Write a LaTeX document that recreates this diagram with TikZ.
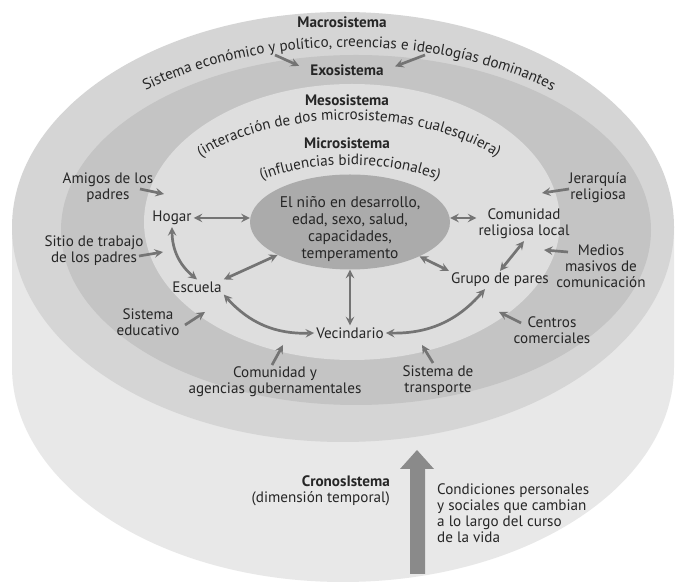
\documentclass[tikz,border=0pt]{standalone}
\usepackage{fontspec}
\setmainfont{PT Sans}
\usepackage{tikz}
\usetikzlibrary{shapes.geometric, arrows, decorations.text}
\definecolor{sidegray}{HTML}{E8E8E8}
\definecolor{macrogray}{HTML}{D5D5D5}
\definecolor{exogray}{HTML}{C4C4C4}
\definecolor{mesogray}{HTML}{DEDEDE}
\definecolor{ninogray}{HTML}{ABABAB}
\definecolor{arrowgray}{HTML}{747474}
\definecolor{cronogray}{HTML}{8A8A8A}
\definecolor{inkgray}{HTML}{262626}
\newcommand{\sistfont}{\fontsize{15.2}{16}\selectfont}
\tikzstyle{sist} = [align=center, font=\sistfont, text=inkgray, inner sep=2pt]
\tikzstyle{ringname} = [font=\sistfont\bfseries, text=inkgray, inner sep=2pt]
\tikzstyle{nino} = [ellipse, minimum width=200bp, minimum height=95bp, inner sep=0pt, fill=ninogray]
\tikzstyle{ninotext} = [align=center, font=\fontsize{15.5}{17}\selectfont, text=inkgray]
\tikzstyle{arrow} = [line width=2.7bp, draw=arrowgray, ->, >=stealth]
\tikzstyle{twoway} = [line width=2.7bp, draw=arrowgray, <->, >=stealth]

\begin{document}
\begin{tikzpicture}[x=1bp, y=1bp]
        \useasboundingbox (0,0) rectangle (681,588);
        \fill[white] (0,0) rectangle (681,588);

        % the disk and its rings
        \fill[sidegray] (12,361) -- (12,221) arc[start angle=180, end angle=360, x radius=331, y radius=215] -- (674,361) -- cycle;
        \fill[macrogray] (343,361) ellipse [x radius=331, y radius=215];
        \fill[exogray] (356,358) ellipse [x radius=295, y radius=175];
        \fill[mesogray] (352,366) ellipse [x radius=208, y radius=138];

        % ring names
        \node (macro) [ringname] at (342,566) {Macrosistema};
        \node (exo) [ringname] at (347,518) {Exosistema};
        \node (meso) [ringname] at (347,488) {Mesosistema};
        \node (micro) [ringname] at (347,445) {Microsistema};

        \path[decorate, decoration={text along path, text align=center,
            text={|\sistfont\color{inkgray}|Sistema económico y político, creencias e ideologías dominantes}}]
            (34,356) arc[start angle=180, end angle=0, x radius=315, y radius=185];
        \path[decorate, decoration={text along path, text align=center,
            text={|\sistfont\color{inkgray}|(interacción de dos microsistemas cualesquiera)}}]
            (157,366) arc[start angle=180, end angle=0, x radius=192, y radius=102];
        \path[decorate, decoration={text along path, text align=center,
            text={|\sistfont\color{inkgray}|(influencias bidireccionales)}}]
            (219,366) arc[start angle=180, end angle=0, x radius=131, y radius=57];

        % the child and the microsystem
        \node (nino) [nino] at (350,366) {};
        \node (ninotexto) [ninotext] at (350,359) {El niño en desarrollo,\\edad, sexo, salud,\\capacidades,\\temperamento};
        \node (hogar) [sist] at (172,370) {Hogar};
        \node (escuela) [sist] at (197,301) {Escuela};
        \node (vecindario) [sist] at (350,255) {Vecindario};
        \node (grupo) [sist] at (500,308) {Grupo de pares};
        \node (comunidad) [sist] at (524,364) {Comunidad\\religiosa local};

        % exosystem settings
        \node (amigos) [sist] at (108,400) {Amigos de los\\padres};
        \node (trabajo) [sist] at (94,337) {Sitio de trabajo\\de los padres};
        \node (educativo) [sist] at (148,266) {Sistema\\educativo};
        \node (agencias) [sist] at (275,206) {Comunidad y\\agencias gubernamentales};
        \node (transporte) [sist] at (438,207) {Sistema de\\transporte};
        \node (comerciales) [sist] at (552,258) {Centros\\comerciales};
        \node (medios) [sist] at (601,322) {Medios\\masivos de\\comunicación};
        \node (jerarquia) [sist] at (598,400) {Jerarquía\\religiosa};

        % chronosystem
        \node (crono) [sist, align=right, anchor=east] at (392,97) {\textbf{CronosIstema}\\(dimensión temporal)};
        \node (condiciones) [sist, align=left, anchor=west] at (435,75) {Condiciones personales\\y sociales que cambian\\a lo largo del curso\\de la vida};
        \fill[cronogray] (410,14) -- (410,119) -- (400,119) -- (417,138) -- (434,119) -- (425,119) -- (425,14) -- cycle;

        % free ends of the outer arrows
        \coordinate (macroL) at (275,533);
        \coordinate (macroR) at (425,533);
        \coordinate (amigosA) at (140,399);
        \coordinate (amigosB) at (164,394);
        \coordinate (trabajoA) at (139,332);
        \coordinate (trabajoB) at (163,336);
        \coordinate (educativoA) at (185,263);
        \coordinate (educativoB) at (205,276);
        \coordinate (agenciasA) at (272,223);
        \coordinate (agenciasB) at (283,243);
        \coordinate (transporteA) at (433,225);
        \coordinate (transporteB) at (422,243);
        \coordinate (comercialesA) at (521,265);
        \coordinate (comercialesB) at (499,276);
        \coordinate (mediosA) at (568,336);
        \coordinate (mediosB) at (544,338);
        \coordinate (jerarquiaA) at (569,399);
        \coordinate (jerarquiaB) at (542,395);

        \draw [arrow, shorten >=10bp] (macroL) -- (exo.west);
        \draw [arrow, shorten >=10bp] (macroR) -- (exo.east);
        \draw [arrow] (amigosA) -- (amigosB);
        \draw [arrow] (trabajoA) -- (trabajoB);
        \draw [arrow] (educativoA) -- (educativoB);
        \draw [arrow] (agenciasA) -- (agenciasB);
        \draw [arrow] (transporteA) -- (transporteB);
        \draw [arrow] (comercialesA) -- (comercialesB);
        \draw [arrow] (mediosA) -- (mediosB);
        \draw [arrow] (jerarquiaA) -- (jerarquiaB);

        % bidirectional influences
        \draw [twoway] (hogar.east) -- (hogar -| nino.west);
        \draw [twoway] (hogar -| nino.east) -- (hogar -| comunidad.west);
        \draw [twoway] (hogar.south) to[bend right=25] (escuela.north);
        \draw [twoway] (escuela.north east) -- (nino);
        \draw [twoway] (escuela.south east) to[bend right=25] (vecindario.west);
        \draw [twoway] (nino) -- (vecindario);
        \draw [twoway] (vecindario.east) to[bend right=25] ([xshift=-15bp]grupo.south);
        \draw [twoway] (nino) -- (grupo.north west);
        \draw [twoway] (comunidad.south) -- (grupo.north);
\end{tikzpicture}
\end{document}
